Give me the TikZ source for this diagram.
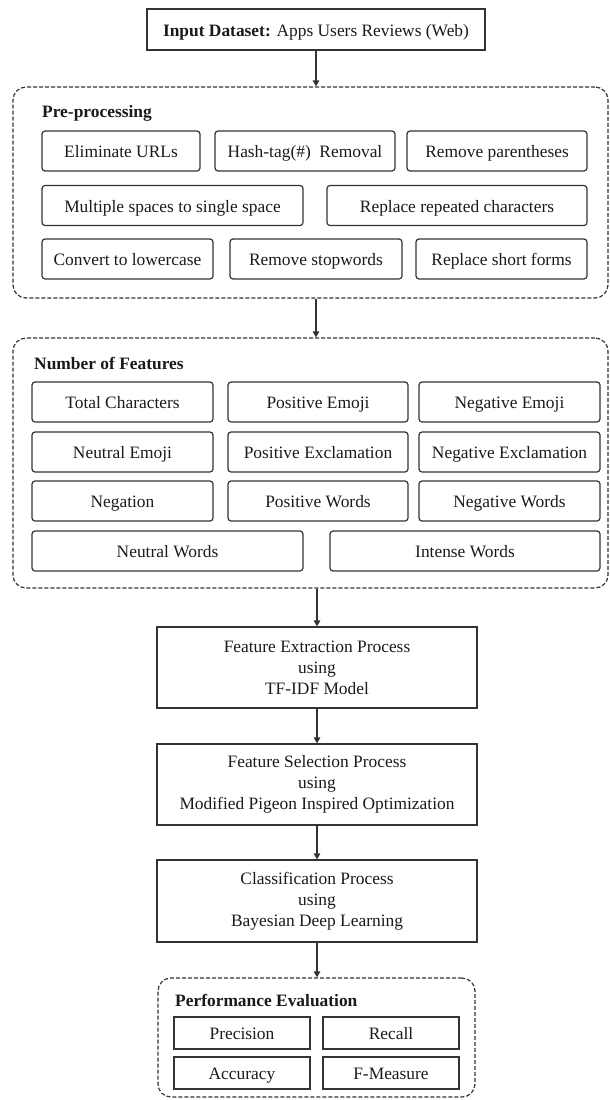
\documentclass[tikz,border=0pt]{standalone}
\usepackage{fontspec}
\setmainfont{Liberation Serif}
\usetikzlibrary{arrows.meta}
\definecolor{ln}{HTML}{333333}
\definecolor{tx}{HTML}{1A1A1A}
\begin{document}
\begin{tikzpicture}[x=1pt,y=-1pt,
  every node/.style={font=\fontsize{17.4}{21}\selectfont, text=tx, inner sep=0pt},
  ibox/.style={draw=ln, line width=1.2pt, rounded corners=3pt, minimum height=40pt, text height=13pt, text depth=0pt},
  pbox/.style={draw=ln, line width=1.2pt, minimum width=320pt, align=center},
  ebox/.style={draw=ln, line width=1.2pt, minimum width=136pt, minimum height=32pt, text height=13pt, text depth=0pt},
  group/.style={draw=ln, line width=1.2pt, dash pattern=on 4pt off 2pt, rounded corners=13pt},
  glabel/.style={anchor=west, font=\fontsize{17.4}{21}\selectfont\bfseries},
  arr/.style={draw=ln, line width=1.3pt, -{Triangle[length=6pt,width=6.5pt]}}
]
\useasboundingbox (0,0) rectangle (610,1100);

% top input box
\node[draw=ln, line width=1.2pt, minimum width=338pt, minimum height=41pt, text height=13pt, text depth=0pt] (in) at (316,29.5)
  {\textbf{Input Dataset:} Apps Users Reviews (Web)};

% pre-processing group
\node[group, minimum width=595pt, minimum height=211pt] (pre) at (310.5,192.5) {};
\node[glabel] (prel) at (42,113) {Pre-processing};
\node[ibox, minimum width=158pt] (p1) at (121,151) {Eliminate URLs};
\node[ibox, minimum width=180pt] (p2) at (305,151) {Hash-tag(\#)\ \ Removal};
\node[ibox, minimum width=180pt] (p3) at (497,151) {Remove parentheses};
\node[ibox, minimum width=261pt] (p4) at (172.5,205.5) {Multiple spaces to single space};
\node[ibox, minimum width=260pt] (p5) at (457,205.5) {Replace repeated characters};
\node[ibox, minimum width=171pt] (p6) at (127.5,259) {Convert to lowercase};
\node[ibox, minimum width=172pt] (p7) at (316,259) {Remove stopwords};
\node[ibox, minimum width=171pt] (p8) at (501.5,259) {Replace short forms};

% features group
\node[group, minimum width=595pt, minimum height=250pt] (fea) at (310.5,463) {};
\node[glabel] (feal) at (34,363) {Number of Features};
\node[ibox, minimum width=181pt] (f1) at (122.5,402) {Total Characters};
\node[ibox, minimum width=180pt] (f2) at (318,402) {Positive Emoji};
\node[ibox, minimum width=181pt] (f3) at (509.5,402) {Negative Emoji};
\node[ibox, minimum width=181pt] (f4) at (122.5,452) {Neutral Emoji};
\node[ibox, minimum width=180pt] (f5) at (318,452) {Positive Exclamation};
\node[ibox, minimum width=181pt] (f6) at (509.5,452) {Negative Exclamation};
\node[ibox, minimum width=181pt] (f7) at (122.5,501) {Negation};
\node[ibox, minimum width=180pt] (f8) at (318,501) {Positive Words};
\node[ibox, minimum width=181pt] (f9) at (509.5,501) {Negative Words};
\node[ibox, minimum width=271pt] (f10) at (167.5,551) {Neutral Words};
\node[ibox, minimum width=270pt] (f11) at (465,551) {Intense Words};

% process boxes
\node[pbox, minimum height=81pt] (fe) at (317,667.5) {Feature Extraction Process\\using\\TF-IDF Model};
\node[pbox, minimum height=81pt] (fs) at (317,784.5) {Feature Selection Process\\using\\Modified Pigeon Inspired Optimization};
\node[pbox, minimum height=82pt] (cl) at (317,901) {Classification Process\\using\\Bayesian Deep Learning};

% performance group
\node[group, minimum width=317pt, minimum height=119pt] (pe) at (316.5,1037.5) {};
\node[glabel] (pel) at (175,1000) {Performance Evaluation};
\node[ebox] (e1) at (242,1033) {Precision};
\node[ebox] (e2) at (391,1033) {Recall};
\node[ebox] (e3) at (242,1073) {Accuracy};
\node[ebox] (e4) at (391,1073) {F-Measure};

% arrows
\draw[arr] (in.south) -- (in.south |- pre.north);
\draw[arr] (in.south |- pre.south) -- (in.south |- fea.north);
\draw[arr] (fe.north |- fea.south) -- (fe.north);
\draw[arr] (fe.south) -- (fs.north);
\draw[arr] (fs.south) -- (cl.north);
\draw[arr] (cl.south) -- (cl.south |- pe.north);
\end{tikzpicture}
\end{document}
